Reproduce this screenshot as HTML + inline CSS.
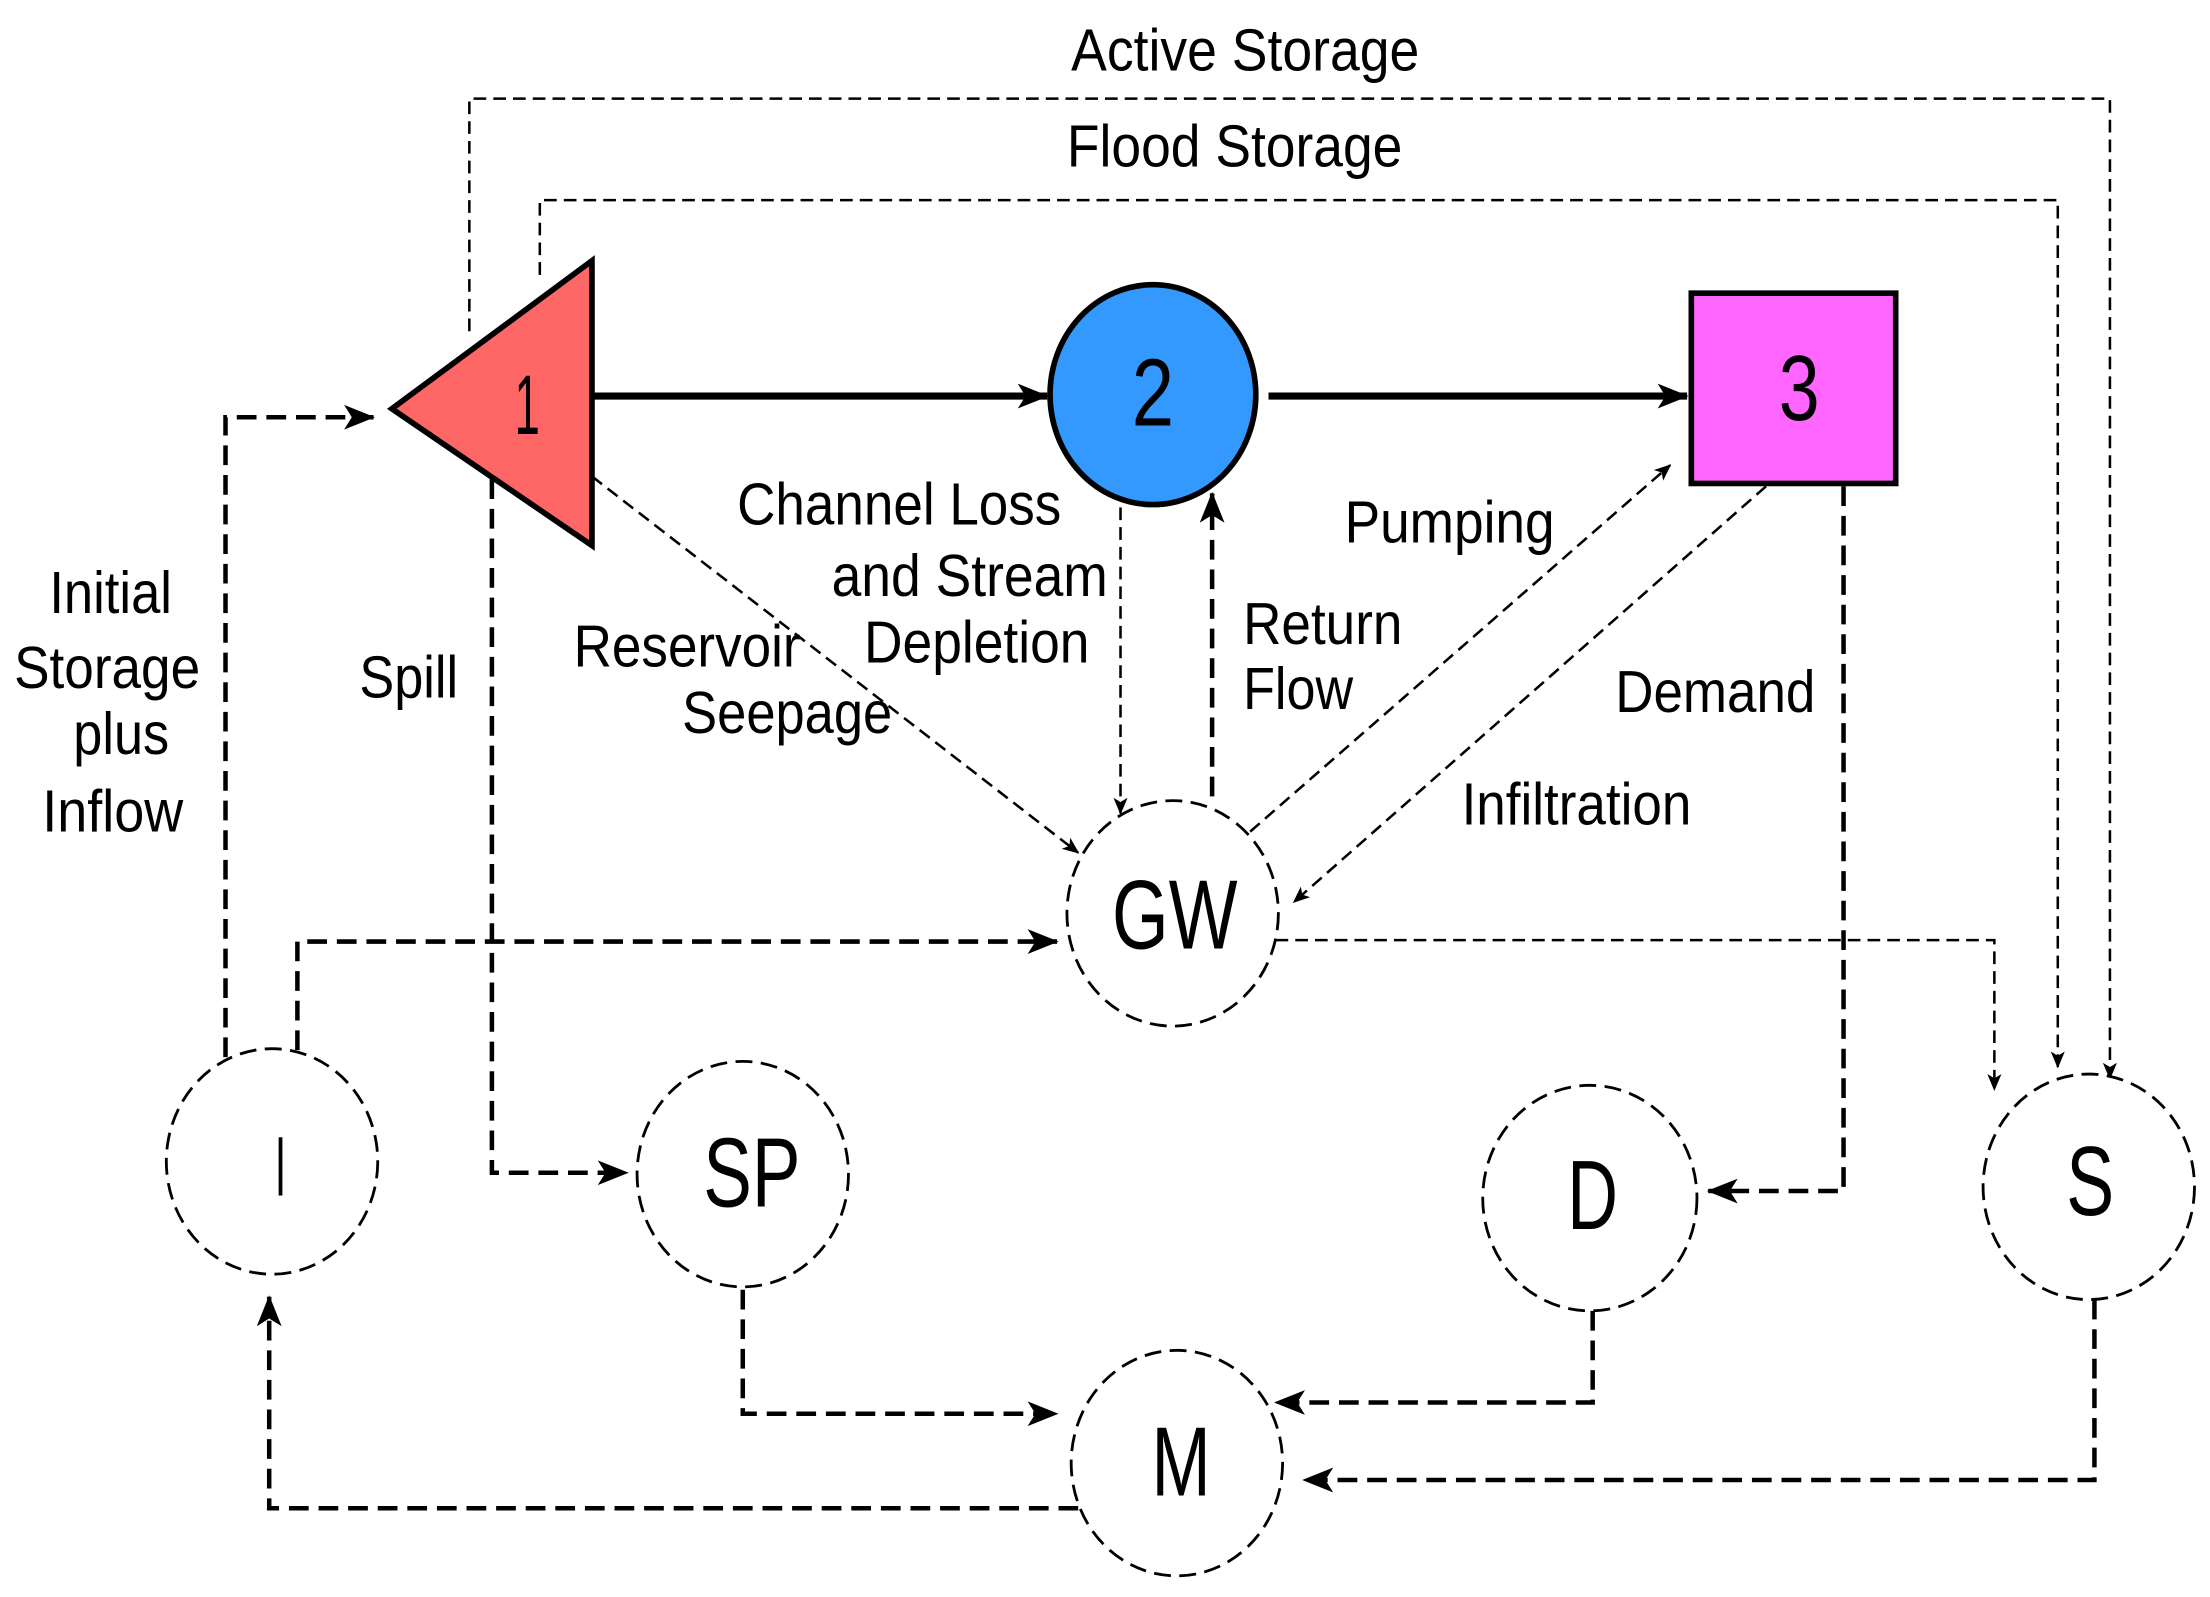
<!DOCTYPE html>
<html><head><meta charset="utf-8"><style>html,body{margin:0;padding:0;background:#fff}svg{display:block}</style></head>
<body>
<svg width="2210" height="1597" viewBox="0 0 1568 1133" preserveAspectRatio="none" xmlns="http://www.w3.org/2000/svg">
<defs>
<marker id="a" viewBox="0 0 12 10" refX="11" refY="5" markerWidth="12" markerHeight="10" markerUnits="userSpaceOnUse" orient="auto"><path d="M0,0 L12,5 L0,10 L3,5 Z" fill="#000"/></marker>
<marker id="b" viewBox="0 0 20 16" refX="19" refY="8" markerWidth="22" markerHeight="18" markerUnits="userSpaceOnUse" orient="auto"><path d="M0,0 L20,8 L0,16 L5,8 Z" fill="#000"/></marker>
</defs>
<g font-family="'Liberation Sans Narrow','Liberation Sans',sans-serif" font-size="42" fill="#000">
<text x="760" y="50" textLength="247" lengthAdjust="spacingAndGlyphs">Active Storage</text>
<text x="757" y="118" textLength="238" lengthAdjust="spacingAndGlyphs">Flood Storage</text>
<text x="35" y="435" textLength="87" lengthAdjust="spacingAndGlyphs">Initial</text>
<text x="10" y="488" textLength="132" lengthAdjust="spacingAndGlyphs">Storage</text>
<text x="52" y="535" textLength="68" lengthAdjust="spacingAndGlyphs">plus</text>
<text x="30" y="590" textLength="100" lengthAdjust="spacingAndGlyphs">Inflow</text>
<text x="255" y="495" textLength="70" lengthAdjust="spacingAndGlyphs">Spill</text>
<text x="407" y="473" textLength="161" lengthAdjust="spacingAndGlyphs">Reservoir</text>
<text x="484" y="520" textLength="149" lengthAdjust="spacingAndGlyphs">Seepage</text>
<text x="523" y="372" textLength="230" lengthAdjust="spacingAndGlyphs">Channel Loss</text>
<text x="590" y="423" textLength="196" lengthAdjust="spacingAndGlyphs">and Stream</text>
<text x="613" y="470" textLength="160" lengthAdjust="spacingAndGlyphs">Depletion</text>
<text x="954" y="385" textLength="149" lengthAdjust="spacingAndGlyphs">Pumping</text>
<text x="882" y="457" textLength="113" lengthAdjust="spacingAndGlyphs">Return</text>
<text x="882" y="503" textLength="78" lengthAdjust="spacingAndGlyphs">Flow</text>
<text x="1146" y="505" textLength="142" lengthAdjust="spacingAndGlyphs">Demand</text>
<text x="1037" y="585" textLength="163" lengthAdjust="spacingAndGlyphs">Infiltration</text>
</g>
<g fill="none" stroke="#000" stroke-width="1.8" stroke-dasharray="9,5">
<path d="M333,235 V70 H1497 V765" marker-end="url(#a)"/>
<path d="M383,195 V142 H1460 V757" marker-end="url(#a)"/>
<path d="M420,338 L765,605" marker-end="url(#a)"/>
<path d="M795,360 V577" marker-end="url(#a)"/>
<path d="M887,590 L1185,330" marker-end="url(#a)"/>
<path d="M1253,345 L918,640" marker-end="url(#a)"/>
<path d="M905,667 H1415 V773" marker-end="url(#a)"/>
</g>
<g fill="none" stroke="#000" stroke-width="3.2" stroke-dasharray="14,7">
<path d="M160,750 V296 H265" marker-end="url(#b)"/>
<path d="M211,745 V668 H750" marker-end="url(#b)"/>
<path d="M349,340 V832 H445" marker-end="url(#b)"/>
<path d="M527,915 V1003 H750" marker-end="url(#b)"/>
<path d="M1130,930 V995 H905" marker-end="url(#b)"/>
<path d="M1486,922 V1050 H925" marker-end="url(#b)"/>
<path d="M765,1070 H191 V920" marker-end="url(#b)"/>
<path d="M1308,345 V845 H1212" marker-end="url(#b)"/>
<path d="M860,565 V350" marker-end="url(#b)"/>
</g>
<g stroke="#000" stroke-width="5">
<path d="M420,281 H743" marker-end="url(#b)"/>
<path d="M900,281 H1197" marker-end="url(#b)"/>
</g>
<polygon points="278,290 420,185 420,387" fill="#ff6666" stroke="#000" stroke-width="4"/>
<ellipse cx="818" cy="280" rx="73" ry="78" fill="#3399ff" stroke="#000" stroke-width="4"/>
<rect x="1200" y="208" width="145" height="135" fill="#ff66ff" stroke="#000" stroke-width="4"/>
<g fill="#fff" stroke="#000" stroke-width="2" stroke-dasharray="12,6">
<ellipse cx="832" cy="648" rx="75" ry="80"/>
<ellipse cx="193" cy="824" rx="75" ry="80"/>
<ellipse cx="527" cy="833" rx="75" ry="80"/>
<ellipse cx="1128" cy="850" rx="76" ry="80"/>
<ellipse cx="1482" cy="842" rx="75" ry="80"/>
<ellipse cx="835" cy="1038" rx="75" ry="80"/>
</g>
<g font-family="'Liberation Sans Narrow','Liberation Sans',sans-serif" fill="#000">
<text x="365" y="308" font-size="60" textLength="18" lengthAdjust="spacingAndGlyphs">1</text>
<text x="803" y="302" font-size="68" textLength="30" lengthAdjust="spacingAndGlyphs">2</text>
<text x="1262" y="298" font-size="66" textLength="29" lengthAdjust="spacingAndGlyphs">3</text>
<text x="789" y="673" font-size="70" textLength="89" lengthAdjust="spacingAndGlyphs">GW</text>
<text x="195" y="848" font-size="60" textLength="8" lengthAdjust="spacingAndGlyphs">I</text>
<text x="499" y="856" font-size="70" textLength="69" lengthAdjust="spacingAndGlyphs">SP</text>
<text x="1112" y="872" font-size="70" textLength="36" lengthAdjust="spacingAndGlyphs">D</text>
<text x="1466" y="862" font-size="70" textLength="34" lengthAdjust="spacingAndGlyphs">S</text>
<text x="817" y="1061" font-size="70" textLength="42" lengthAdjust="spacingAndGlyphs">M</text>
</g>
</svg>
</body></html>
